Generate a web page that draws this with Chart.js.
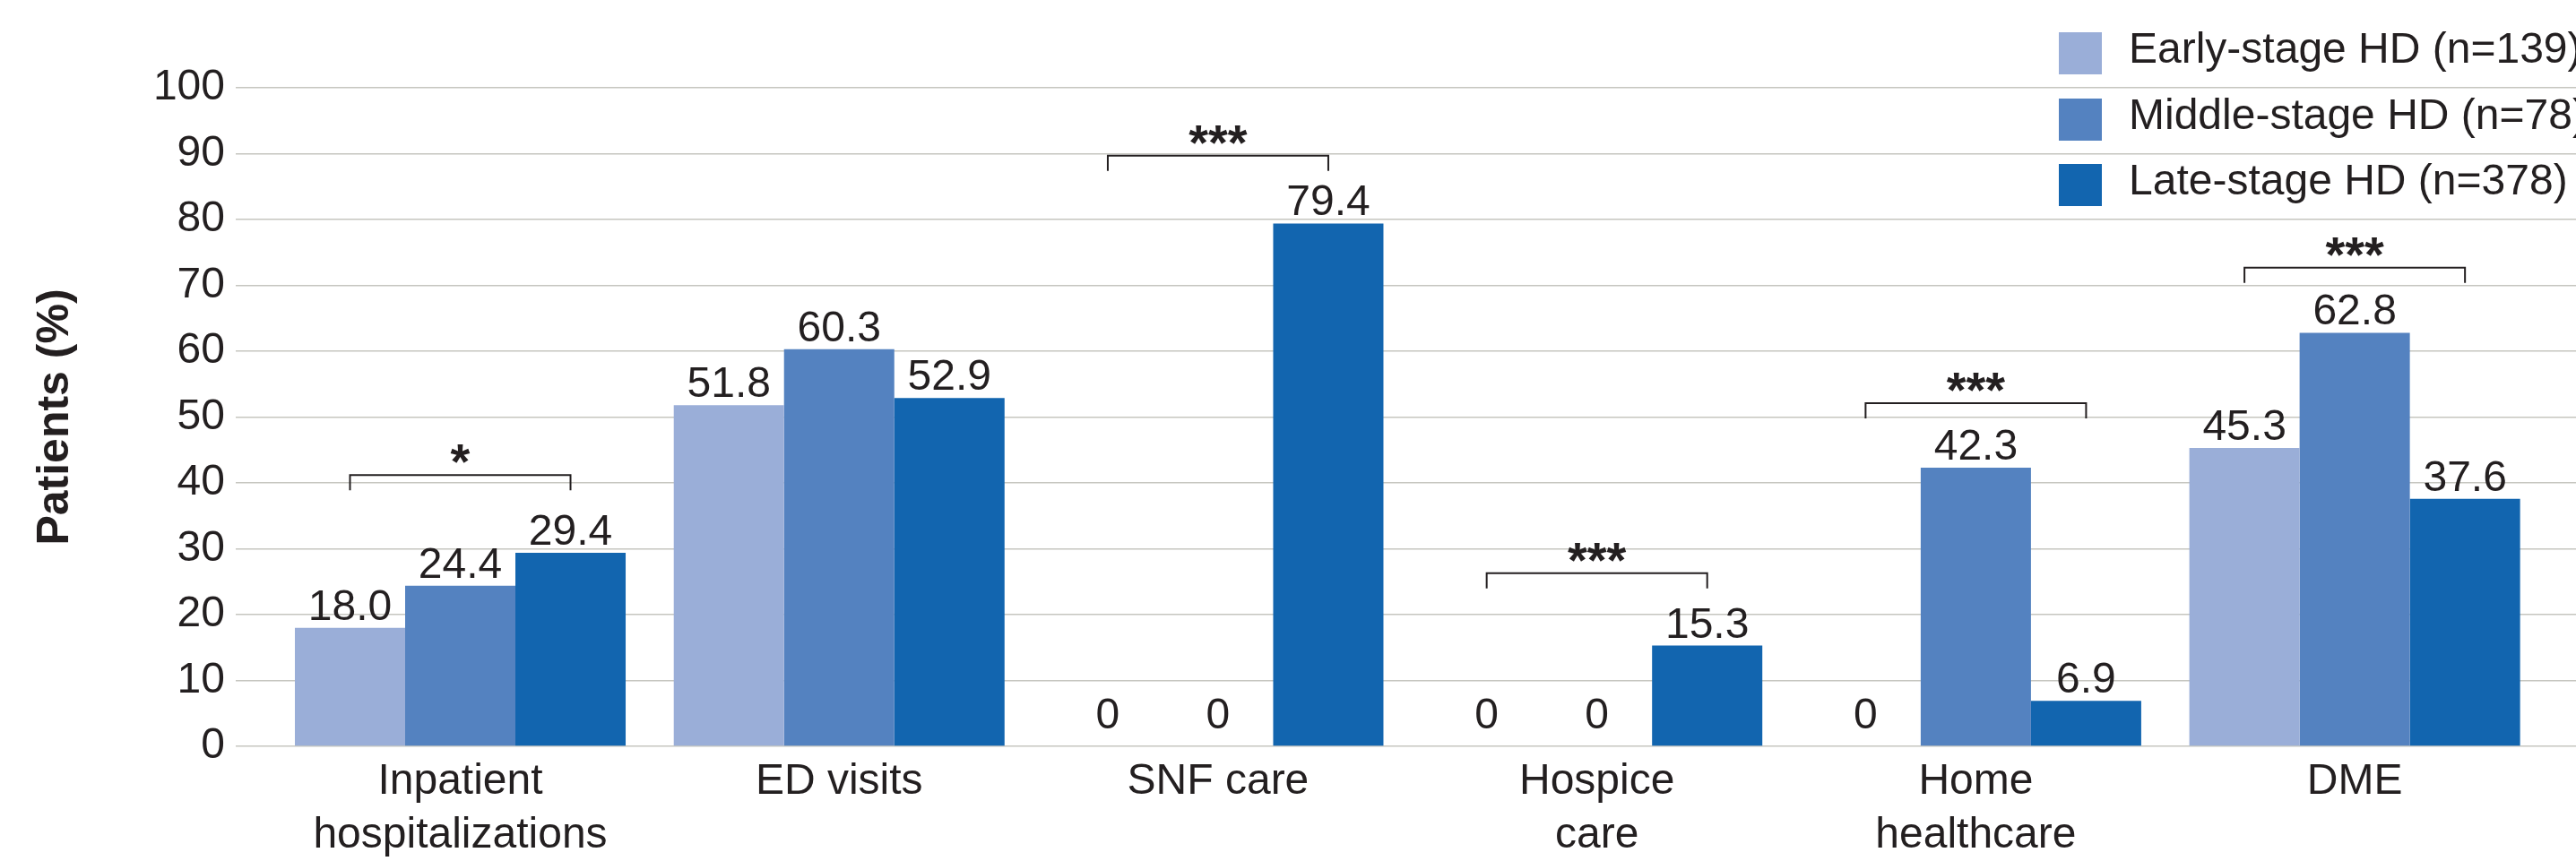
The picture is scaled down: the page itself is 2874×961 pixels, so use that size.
<!DOCTYPE html>
<html>
<head>
<meta charset="utf-8">
<script src="https://cdn.jsdelivr.net/npm/chart.js@4.4.1/dist/chart.umd.min.js"></script>
<style>
  html, body { margin: 0; padding: 0; background: #fff; }
</style>
</head>
<body>
<canvas id="myChart" width="2874" height="961"></canvas>
<script>
// data
const categories = [['Inpatient', 'hospitalizations'], 'ED visits', 'SNF care', ['Hospice', 'care'], ['Home', 'healthcare'], 'DME'];
const seriesNames = ['Early-stage HD (n=139)', 'Middle-stage HD (n=78)', 'Late-stage HD (n=378)'];
const earlyStage = [18.0, 51.8, 0, 0, 0, 45.3];
const middleStage = [24.4, 60.3, 0, 0, 42.3, 62.8];
const lateStage = [29.4, 52.9, 79.4, 15.3, 6.9, 37.6];
const significance = ['*', '', '***', '***', '***', '***'];
const bracketLevel = [41.2, null, 89.7, 26.3, 52.1, 72.7];
const yTicks = { min: 0, max: 100, step: 10 };

const colors = ['#9aaed8', '#5482c0', '#1265af'];
const ink = '#231f20';
const family = '"Liberation Sans", Arial, sans-serif';

Chart.defaults.font.family = family;
Chart.defaults.color = ink;

const series = [earlyStage, middleStage, lateStage];

// value labels, significance brackets and the legend box
const overlay = {
  id: 'overlay',
  afterDatasetsDraw(chart) {
    const ctx = chart.ctx;
    const yScale = chart.scales.y;
    ctx.save();
    ctx.fillStyle = ink;
    ctx.textAlign = 'center';
    ctx.textBaseline = 'alphabetic';
    ctx.font = '48px ' + family;
    series.forEach((vals, d) => {
      chart.getDatasetMeta(d).data.forEach((bar, i) => {
        const v = vals[i];
        ctx.fillText(v === 0 ? '0' : v.toFixed(1), bar.x, bar.y - (v === 0 ? 20 : 9));
      });
    });

    const first = chart.getDatasetMeta(0).data;
    const last = chart.getDatasetMeta(2).data;
    ctx.strokeStyle = ink;
    ctx.lineWidth = 2;
    ctx.font = 'bold 56px ' + family;
    significance.forEach((s, i) => {
      if (!s) return;
      const x1 = first[i].x, x2 = last[i].x;
      const by = yScale.getPixelForValue(bracketLevel[i]);
      ctx.beginPath();
      ctx.moveTo(x1, by + 17);
      ctx.lineTo(x1, by);
      ctx.lineTo(x2, by);
      ctx.lineTo(x2, by + 17);
      ctx.stroke();
      ctx.fillText(s, (x1 + x2) / 2, by + 4);
    });

    // legend, top right, one row per gridline gap
    ctx.textAlign = 'left';
    ctx.textBaseline = 'middle';
    ctx.font = '48px ' + family;
    const rowTop = [36, 110, 183];
    seriesNames.forEach((name, d) => {
      ctx.fillStyle = colors[d];
      ctx.fillRect(2297, rowTop[d], 48, 47);
      ctx.fillStyle = ink;
      ctx.fillText(name, 2375, rowTop[d] + 21);
    });
    ctx.restore();
  }
};

const ctx = document.getElementById('myChart').getContext('2d');

new Chart(ctx, {
  type: 'bar',
  data: {
    datasets: series.map((vals, d) => ({
      label: seriesNames[d],
      data: vals.map((v, i) => ({ x: i, y: v })),
      backgroundColor: colors[d],
      borderWidth: 0,
      categoryPercentage: 0.873,
      barPercentage: 1.0
    }))
  },
  options: {
    responsive: false,
    animation: false,
    devicePixelRatio: 1,
    layout: { padding: { top: 98, right: 0, bottom: 0, left: 0 } },
    plugins: {
      legend: { display: false },
      tooltip: { enabled: false }
    },
    scales: {
      x: {
        type: 'linear',
        offset: false,
        min: -0.5926,
        max: 5.584,
        grid: { display: false, drawTicks: false, offset: false },
        border: { display: false },
        ticks: {
          stepSize: 1,
          includeBounds: false,
          autoSkip: false,
          maxRotation: 0,
          padding: 10,
          font: { size: 48, lineHeight: 1.25 },
          color: ink,
          callback: (value) => Number.isInteger(value) && categories[value] ? categories[value] : ''
        },
        afterFit: (scale) => { scale.height = 128; }
      },
      y: {
        min: yTicks.min,
        max: yTicks.max,
        grid: { color: '#c6c6c0', lineWidth: 1.5, drawTicks: false },
        border: { display: false },
        ticks: {
          stepSize: yTicks.step,
          padding: 12,
          font: { size: 48 },
          color: ink
        },
        title: {
          display: true,
          text: 'Patients (%)',
          font: { size: 50, weight: 'bold' },
          color: ink,
          padding: { top: 32, bottom: 0 }
        },
        afterFit: (scale) => { scale.width = 263; }
      }
    }
  },
  plugins: [overlay]
});
</script>
</body>
</html>
